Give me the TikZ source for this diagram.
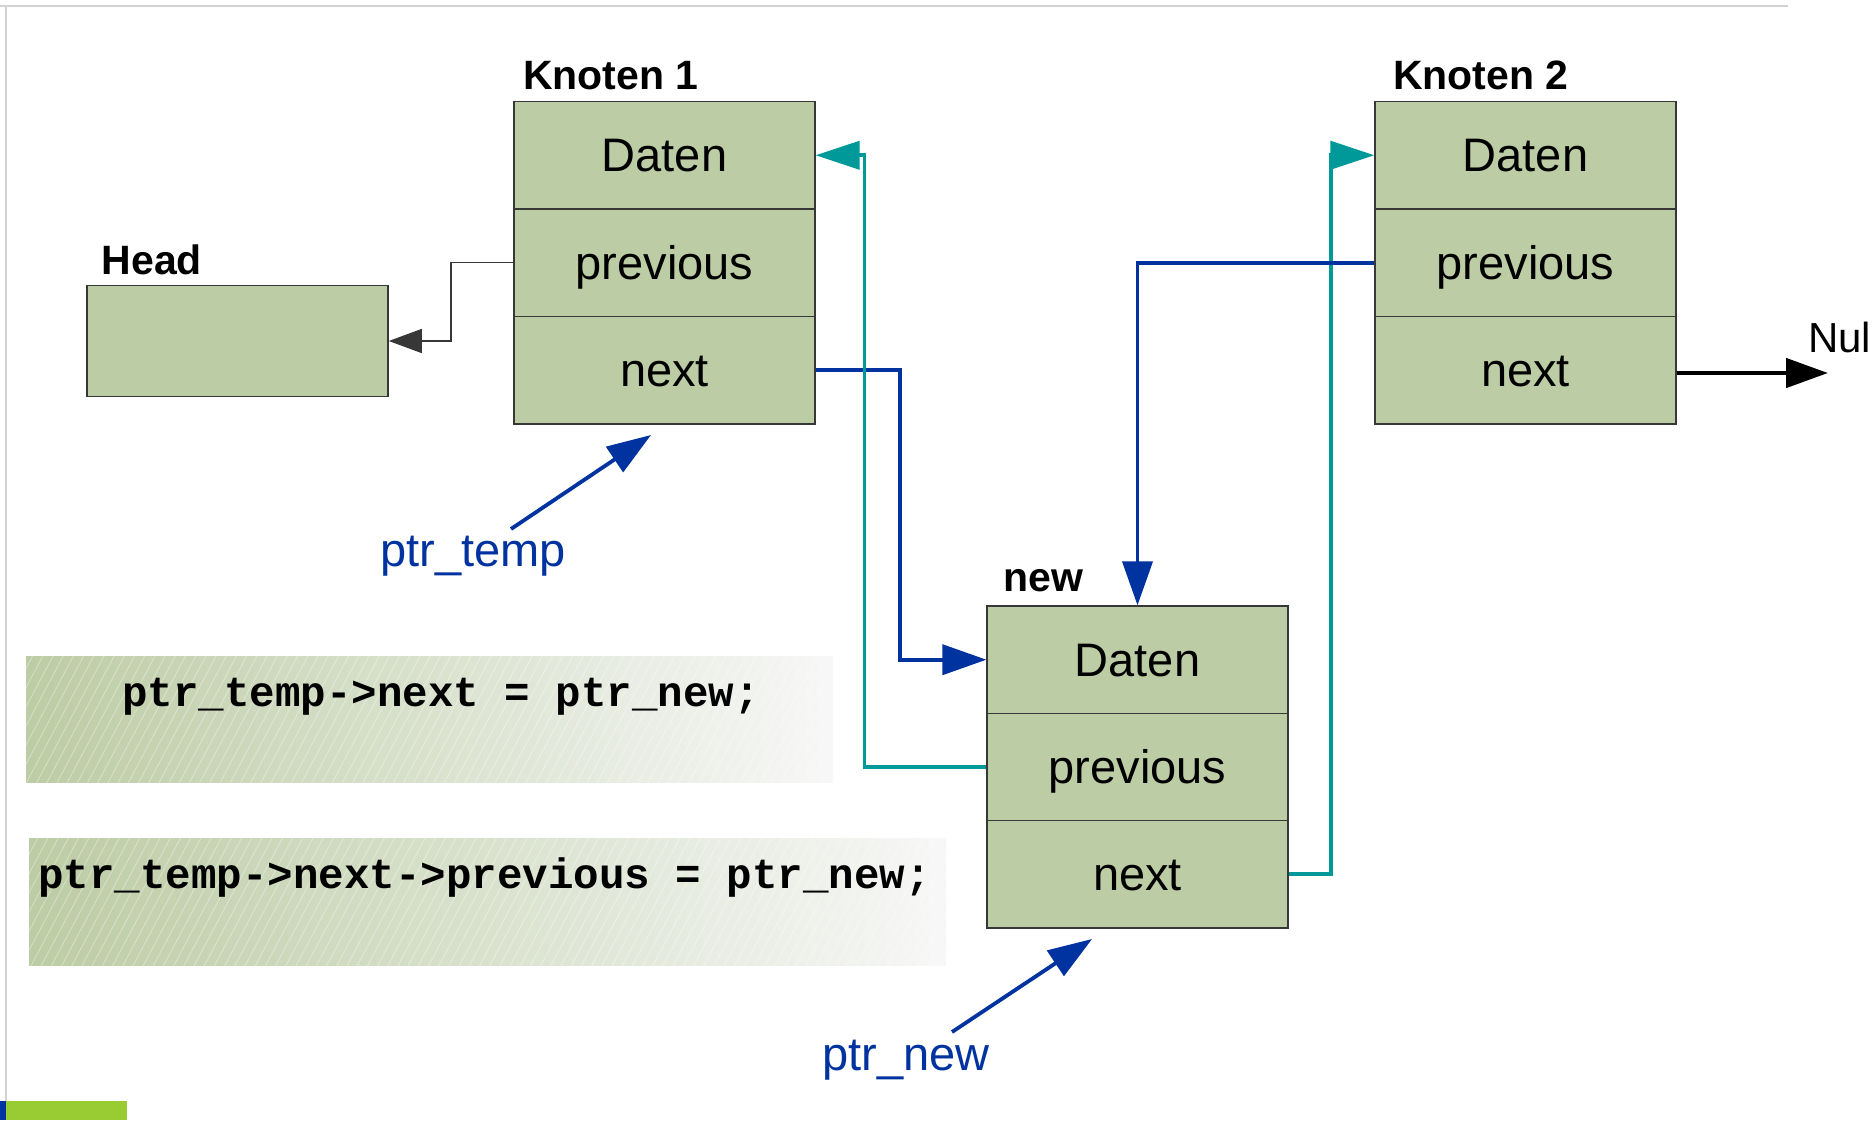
\documentclass[tikz,border=0pt]{standalone}
\usepackage{fontspec}
\setmainfont{Liberation Sans}
\newfontfamily\codefont{Liberation Mono}
\usetikzlibrary{arrows.meta,patterns.meta}

\definecolor{cellgreen}{RGB}{188,204,164}
\definecolor{cellline}{RGB}{55,55,55}
\definecolor{ptrblue}{RGB}{0,51,160}
\definecolor{linkteal}{RGB}{0,153,153}
\definecolor{framegray}{RGB}{210,210,210}
\definecolor{barlime}{RGB}{153,204,51}

\tikzset{
  cell/.style={draw=cellline, line width=1.2pt, fill=cellgreen,
    minimum width=301pt, minimum height=107.5pt, inner sep=0pt,
    text height=33pt, text depth=0pt, font=\fontsize{47}{56}\selectfont},
  headbox/.style={draw=cellline, line width=1.5pt, fill=cellgreen,
    minimum width=301pt, minimum height=111pt, inner sep=0pt},
  tlabel/.style={anchor=base west, inner sep=0pt, font=\bfseries\fontsize{41}{49}\selectfont},
  ptrlabel/.style={anchor=base west, inner sep=0pt, text=ptrblue, font=\fontsize{47}{56}\selectfont},
  codetext/.style={anchor=base west, inner sep=0pt, font=\codefont\bfseries\fontsize{42.5}{50}\selectfont},
  bluelink/.style={draw=ptrblue, line width=3.8pt, -{Triangle[length=44pt,width=30pt]}},
  teallink/.style={draw=linkteal, line width=3.8pt, -{Triangle[length=44pt,width=28pt]}},
  thinlink/.style={draw=cellline, line width=1.3pt, -{Triangle[length=33pt,width=24pt]}},
  nulllink/.style={draw=black, line width=4.5pt, -{Triangle[length=42pt,width=29pt]}},
  codebg/.style={left color=cellgreen, middle color=cellgreen!40!white, right color=white!97!black},
  codestripes/.style={pattern={Lines[angle=62,distance=9pt,line width=0.9pt]}, pattern color=white, opacity=0.35}
}

\begin{document}
\begin{tikzpicture}[x=1pt,y=-1pt]
\useasboundingbox (0,0) rectangle (1873,1120);
\clip (0,0) rectangle (1873,1120);
\fill[white] (0,0) rectangle (1873,1120);

% page frame and corner bar
\draw[framegray, line width=2.5pt] (0,6) -- (1788,6);
\draw[framegray, line width=2.5pt] (6,6) -- (6,1101);
\fill[barlime] (6,1101) rectangle (127,1120);
\fill[ptrblue] (0,1101) rectangle (6,1120);

% code boxes
\path[codebg] (26,656) rectangle (833,782);
\path[codestripes] (26,656) rectangle (833,782);
\path[codebg] (29,838) rectangle (946,965);
\path[codestripes] (29,838) rectangle (946,965);
\node[codetext] (code1) at (122,706) {ptr\_temp->next = ptr\_new;};
\node[codetext] (code2) at (38,888) {ptr\_temp->next->previous = ptr\_new;};

% head
\node[headbox] (head) at (237.5,341) {};
\node[tlabel] (headlbl) at (101.5,274) {Head};

% node 1
\node[cell] (k1d) at (664.5,155.25) {Daten};
\node[cell] (k1p) at (664.5,262.75) {previous};
\node[cell] (k1n) at (664.5,370.25) {next};
\node[tlabel] (k1lbl) at (523,89) {Knoten 1};

% node 2
\node[cell] (k2d) at (1525.5,155.25) {Daten};
\node[cell] (k2p) at (1525.5,262.75) {previous};
\node[cell] (k2n) at (1525.5,370.25) {next};
\node[tlabel] (k2lbl) at (1393,89) {Knoten 2};

% new node
\node[cell] (nd) at (1137.5,659.7) {Daten};
\node[cell] (np) at (1137.5,767) {previous};
\node[cell] (nn) at (1137.5,874.3) {next};
\node[tlabel] (nlbl) at (1003,591) {new};

% pointer labels
\node[ptrlabel] (ptrtemp) at (380,566) {ptr\_temp};
\node[ptrlabel] (ptrnew) at (822,1070) {ptr\_new};
\node[anchor=base west, inner sep=0pt, font=\fontsize{42}{50}\selectfont] (nulllbl) at (1808,352) {Null};

\coordinate (ptrtempfrom) at (511,529);
\coordinate (ptrtempto) at (651,435);
\coordinate (ptrnewfrom) at (952,1032);
\coordinate (ptrnewto) at (1092,939);
\coordinate (nullend) at (1828,373);

% links
\draw[thinlink] (k1p.west) -- ++(-62.5,0) |- (head.east);
\draw[bluelink] (k1n.east) -- ++(84.5,0) |- (nd.west);
\draw[teallink] (np.west) -- ++(-122,0) |- (k1d.east);
\draw[teallink] (nn.east) -- ++(42.7,0) |- (k2d.west);
\draw[bluelink] (k2p.west) -| (nd.north);
\draw[nulllink] (k2n.east |- nullend) -- (nullend);
\draw[bluelink] (ptrtempfrom) -- (ptrtempto);
\draw[bluelink] (ptrnewfrom) -- (ptrnewto);
\end{tikzpicture}
\end{document}
